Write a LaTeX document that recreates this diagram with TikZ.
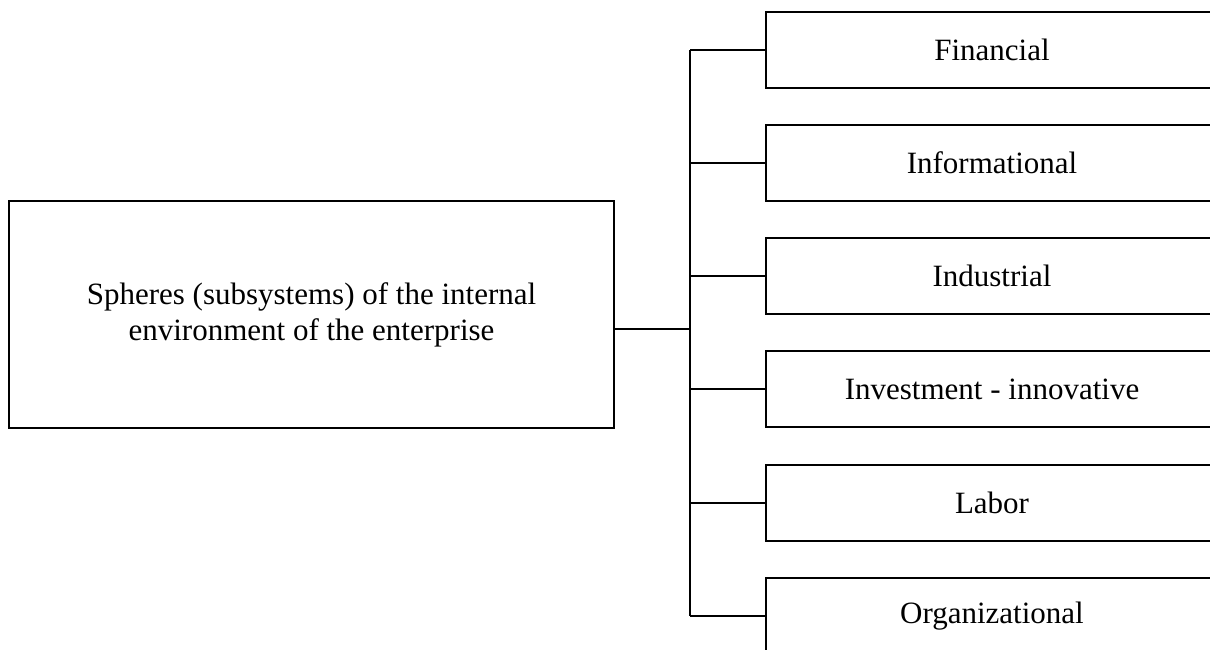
\documentclass[tikz,border=0pt]{standalone}
\usepackage{fontspec}
\setmainfont{Liberation Serif}
\begin{document}
\begin{tikzpicture}[x=1pt,y=-1pt,
  box/.style={draw,line width=2pt,inner sep=0pt,align=center,font=\fontsize{31}{36}\selectfont},
  sub/.style={box,minimum width=452pt,minimum height=76pt},
  link/.style={line width=2pt}]
\clip (0,0) rectangle (1210,650);
\node[box,minimum width=605pt,minimum height=227pt] (main) at (311.5,314.5)
  {Spheres (subsystems) of the internal\\environment of the enterprise};
\foreach \n/\y/\t in {1/50/Financial,2/163/Informational,3/276/Industrial,
  4/389/Investment - innovative,5/503/Labor,6/616/Organizational}
  \node[sub] (s\n) at (992,\y) {\t};
\coordinate (mid) at (0,329);
\coordinate (trunk) at (690,0);
\draw[link] (main.east |- mid) -- (trunk |- mid);
\draw[link] (trunk |- s1) -- (trunk |- s6);
\foreach \n in {1,...,6}
  \draw[link] (trunk |- s\n) -- (s\n.west);
\end{tikzpicture}
\end{document}
